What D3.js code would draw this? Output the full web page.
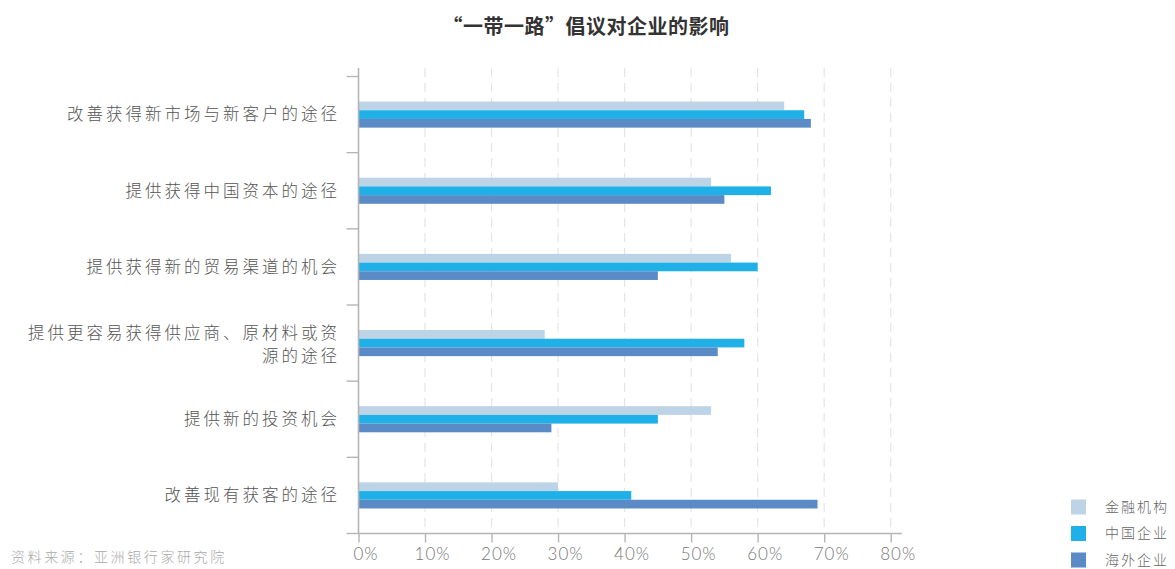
<!DOCTYPE html>
<html>
<head>
<meta charset="utf-8">
<script src="https://cdn.jsdelivr.net/npm/d3@7"></script>
<style>
  html, body { margin: 0; padding: 0; background: #fff; }
  svg { display: block; }
</style>
</head>
<body>
<svg id="chart" width="1175" height="569"></svg>
<script>
// Survey categories (top to bottom), wrapped lines separated by "\n"
const categories = [
  "改善获得新市场与新客户的途径",
  "提供获得中国资本的途径",
  "提供获得新的贸易渠道的机会",
  "提供更容易获得供应商、原材料或资\n源的途径",
  "提供新的投资机会",
  "改善现有获客的途径"
];
const seriesNames = ["金融机构", "中国企业", "海外企业"];
const financial = [64, 53, 56, 28, 53, 30];
const chinese   = [67, 62, 60, 58, 45, 41];
const overseas  = [68, 55, 45, 54, 29, 69];
const tickValues = [0, 10, 20, 30, 40, 50, 60, 70, 80];
const colors = ["#bdd3e6", "#1fb0e8", "#5b8bc6"];

const series = [financial, chinese, overseas];

const svg = d3.select("#chart");
const plotLeft = 358.5, plotRight = 890.7, plotTop = 76.5, plotBottom = 533.5;

const x = d3.scaleLinear().domain([0, 80]).range([plotLeft, plotRight]);
const y = d3.scaleBand().domain(d3.range(categories.length)).range([plotTop, plotBottom]).paddingInner(0).paddingOuter(0);
const barH = 8.7;
const groupH = barH * series.length;

// Title
svg.append("text")
  .attr("x", 586).attr("y", 34)
  .attr("text-anchor", "middle")
  .attr("font-family", "'Noto Sans CJK SC', sans-serif")
  .attr("font-weight", 700)
  .attr("font-size", 20)
  .attr("letter-spacing", 0.5)
  .attr("fill", "#333")
  .text("“一带一路”倡议对企业的影响");

// Vertical dashed gridlines
svg.append("g").selectAll("line")
  .data(tickValues.filter(d => d > 0))
  .join("line")
  .attr("x1", d => x(d)).attr("x2", d => x(d))
  .attr("y1", 68).attr("y2", plotBottom)
  .attr("stroke", "#e4e4e4")
  .attr("stroke-width", 1.2)
  .attr("stroke-dasharray", "9,6");

// Bars
series.forEach((vals, si) => {
  svg.append("g").selectAll("rect")
    .data(vals)
    .join("rect")
    .attr("x", x(0))
    .attr("y", (d, i) => y(i) + (y.bandwidth() - groupH) / 2 + si * barH)
    .attr("width", d => x(d) - x(0))
    .attr("height", barH)
    .attr("fill", colors[si]);
});

// X axis
const xAxis = svg.append("g")
  .attr("transform", `translate(0,${plotBottom})`)
  .call(d3.axisBottom(x).tickValues(tickValues).tickSize(9).tickFormat(d => d + "%"));
xAxis.select(".domain").remove();
xAxis.append("line")
  .attr("x1", plotLeft).attr("x2", 902).attr("y1", 0).attr("y2", 0)
  .attr("stroke", "#b5b5b5").attr("stroke-width", 1.6);
xAxis.selectAll(".tick line").attr("stroke", "#b5b5b5").attr("stroke-width", 1.4);
xAxis.selectAll(".tick text")
  .attr("dx", 7).attr("dy", 14)
  .attr("font-family", "Lato, 'Open Sans', sans-serif")
  .attr("font-weight", 300)
  .attr("font-size", 17)
  .attr("letter-spacing", 1)
  .attr("fill", "#777");

// Y axis with tick marks between categories
const yg = svg.append("g");
yg.append("line")
  .attr("x1", plotLeft).attr("x2", plotLeft).attr("y1", 68).attr("y2", plotBottom)
  .attr("stroke", "#b5b5b5").attr("stroke-width", 1.6);
yg.selectAll("line.tick")
  .data(d3.range(categories.length + 1))
  .join("line")
  .attr("class", "tick")
  .attr("x1", plotLeft - 12).attr("x2", plotLeft)
  .attr("y1", i => plotTop + i * y.step()).attr("y2", i => plotTop + i * y.step())
  .attr("stroke", "#b5b5b5").attr("stroke-width", 1.4);

// Category labels
categories.forEach((c, i) => {
  const lines = c.split("\n");
  const lh = 23;
  const cy = y(i) + y.bandwidth() / 2;
  const t = svg.append("text")
    .attr("text-anchor", "end")
    .attr("font-family", "'Noto Sans CJK SC', sans-serif")
    .attr("font-weight", 300)
    .attr("font-size", 16.5)
    .attr("letter-spacing", 3)
    .attr("fill", "#555");
  lines.forEach((ln, k) => {
    t.append("tspan")
      .attr("x", 340)
      .attr("y", cy + (k - (lines.length - 1) / 2) * lh + (lines.length > 1 ? 2 : 0))
      .attr("dy", "0.35em")
      .text(ln);
  });
});

// Legend
const lg = svg.append("g");
seriesNames.forEach((n, i) => {
  const cy = 507 + i * 26.5;
  lg.append("rect")
    .attr("x", 1071).attr("y", cy - 7.5)
    .attr("width", 15).attr("height", 15)
    .attr("fill", colors[i]);
  lg.append("text")
    .attr("x", 1105).attr("y", cy).attr("dy", "0.35em")
    .attr("font-family", "'Noto Sans CJK SC', sans-serif")
    .attr("font-weight", 300)
    .attr("font-size", 14)
    .attr("letter-spacing", 2)
    .attr("fill", "#666")
    .text(n);
});

// Source note
svg.append("text")
  .attr("x", 11).attr("y", 557).attr("dy", "0.35em")
  .attr("font-family", "'Noto Sans CJK SC', sans-serif")
  .attr("font-weight", 300)
  .attr("font-size", 14)
  .attr("letter-spacing", 2.6)
  .attr("fill", "#aaa")
  .text("资料来源：亚洲银行家研究院");
</script>
</body>
</html>
